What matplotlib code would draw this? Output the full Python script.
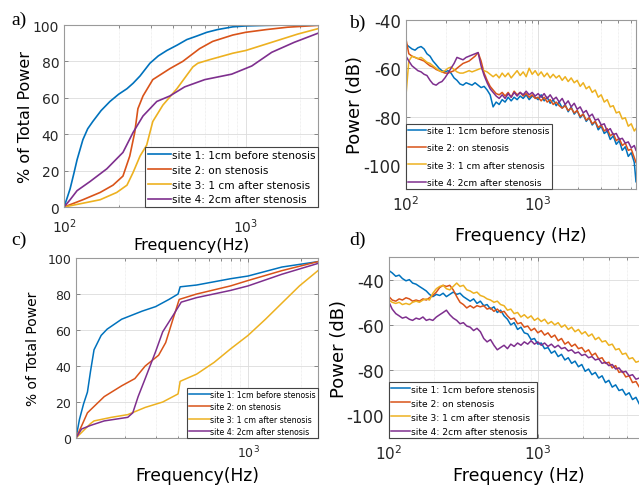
import matplotlib
matplotlib.use("Agg")
import matplotlib.pyplot as plt
from matplotlib.ticker import NullFormatter

plt.rcParams['font.family'] = ['DejaVu Sans']
plt.rcParams['axes.unicode_minus'] = False
plt.rcParams['mathtext.fontset'] = 'dejavusans'

colors = ['#0072BD', '#D95319', '#EDB120', '#7E2F8E']
labels = ['site 1: 1cm before stenosis', 'site 2: on stenosis',
          'site 3: 1 cm after stenosis', 'site 4: 2cm after stenosis']

# ---- panel a: cumulative power (%) ----
a_site1_f = [100, 104, 108, 113, 118, 127, 135, 144, 160, 179, 200, 222, 240, 262, 297, 330, 368, 420, 474, 540, 611, 700, 849, 1000, 1300, 1700, 2500]
a_site1_y = [0, 5, 10, 18, 26, 37, 43, 47, 53, 58, 62, 65, 68, 72, 79, 83, 86, 89, 92, 94, 96, 97.5, 99, 99.5, 99.8, 100, 100]
a_site2_f = [100, 127, 158, 186, 211, 230, 245, 255, 272, 308, 382, 450, 557, 658, 849, 1000, 1300, 1700, 2500]
a_site2_y = [0, 4, 8, 12, 17, 28, 41, 54, 61, 70, 76, 80, 87, 91, 94.5, 96, 97.5, 98.8, 99.8]
a_site3_f = [100, 158, 195, 222, 240, 262, 285, 308, 350, 418, 512, 545, 635, 849, 1000, 1390, 1930, 2500]
a_site3_y = [0, 4, 8, 12, 19, 28, 34, 47, 56, 65, 77, 79, 81, 84.5, 86, 90.5, 95, 98]
a_site4_f = [100, 108, 118, 139, 172, 211, 240, 272, 324, 382, 461, 595, 837, 1080, 1390, 1850, 2500]
a_site4_y = [0, 4, 9, 14, 21, 30, 41, 50, 58, 61, 66, 70, 73, 77.5, 85, 90.5, 95.5]

# ---- panel c: cumulative power (%) ----
c_site1_f = [105, 110, 116, 122, 127, 133, 146, 158, 191, 250, 298, 355, 400, 411, 510, 795, 1000, 1560, 2500]
c_site1_y = [0, 10.5, 19, 25.5, 37, 49, 57, 60.5, 66, 70.5, 73, 77, 80, 84, 85, 88.5, 90, 95, 98]
c_site2_f = [105, 113, 122, 152, 191, 227, 260, 310, 340, 374, 406, 510, 795, 1000, 1560, 2500]
c_site2_y = [0, 6.7, 14, 23, 29, 33, 40, 46, 53, 66, 77, 80, 84.5, 87.5, 93, 98]
c_site3_f = [105, 127, 133, 167, 207, 260, 327, 400, 411, 510, 641, 795, 1000, 1257, 1560, 1961, 2500]
c_site3_y = [0, 8, 9.5, 11.5, 13, 17, 20, 24.5, 31.5, 35.5, 42, 49.5, 57, 66, 75, 84.5, 93]
c_site4_f = [105, 113, 127, 152, 207, 221, 237, 260, 298, 327, 374, 417, 510, 795, 1000, 1560, 2500]
c_site4_y = [0, 5, 7, 9.5, 11.5, 14, 23, 33, 48, 59, 68, 75.5, 78, 82, 84.5, 91, 97]

# ---- panels b, d: power spectra (dB) ----
psd_freq = [100, 105, 111, 117, 123, 130, 137, 144, 152, 160, 169, 178, 187, 197, 208, 219, 231, 243, 256, 270,
            285, 300, 316, 333, 351, 370, 390, 411, 433, 456, 481, 507, 534, 562, 593, 625, 658, 693, 731, 770,
            811, 855, 901, 949, 1000, 1054, 1110, 1170, 1233, 1299, 1369, 1442, 1520, 1601, 1687, 1778, 1874, 1974,
            2080, 2192, 2310, 2434, 2565, 2702, 2848, 3000, 3162, 3332, 3511, 3700, 3899, 4108, 4329, 4562, 4807,
            5065, 5337, 5500]

b_site1 = [-50, -51, -52, -52.5, -51.5, -51, -52, -54, -55, -57, -58.5, -60, -61, -61.5, -61, -62, -64, -65, -66.5, -67,
           -66, -66.5, -67, -66, -67, -68, -67.5, -69, -71, -76, -74, -75, -73, -74, -72, -73.5, -72, -73, -71.5, -72.5,
           -71, -73, -71.5, -72, -73, -71, -73.5, -72, -74.5, -73, -75.5, -74, -76.5, -75, -78, -76, -79, -77.5,
           -80.5, -79, -82, -80.5, -83.5, -82, -85.5, -84, -87, -86, -89.5, -88, -91.5, -90, -94, -92.5, -96.5,
           -95, -99, -107]
b_site2 = [-48, -54, -55, -55.5, -56, -56.5, -57, -58, -59, -59.5, -60.5, -61, -61.5, -62, -62, -61.5, -61, -60, -59, -58,
           -57.5, -57, -56, -55, -53.5, -57, -62, -65, -67.5, -69, -70.5, -71, -70, -71.5, -70, -72, -69.5, -71, -70, -71.5,
           -70.5, -72, -71, -72.5, -72, -73.5, -72, -74, -73, -75, -74, -75.5, -76.5, -75.5, -77.5, -76.5, -78.5, -77.5,
           -80, -79, -81.5, -80.5, -83, -82, -84.5, -83.5, -86, -85, -88, -87, -90, -89, -92, -91, -94,
           -93.5, -97, -99]
b_site3 = [-71, -57, -55, -55.5, -56, -55.5, -56.5, -57.5, -58, -59, -60, -61, -61.5, -61, -60, -59.5, -60.5, -61.5, -62, -62,
           -61.5, -61, -61.5, -61, -60.5, -60, -61, -61.5, -62.5, -63.5, -62.5, -64, -62, -63.5, -62, -64, -62.5, -61, -63, -61.5,
           -63.5, -60, -62.5, -61, -63, -61.5, -63.5, -62, -64, -62.5, -64, -63, -65, -63.5, -65.5, -64, -66, -65,
           -67.5, -66, -68.5, -67.5, -70, -69, -72, -71, -74, -73, -76, -75.5, -78.5, -78, -81, -80.5, -84,
           -83, -86, -85]
b_site4 = [-55, -57, -59, -60, -61, -61.5, -62.5, -63, -65, -66.5, -67, -66, -65.5, -64, -62, -60, -58, -55.5, -56, -56.5,
           -55.5, -55, -54.5, -54, -53.5, -59, -63, -66, -68.5, -70, -71.5, -72.5, -71, -72.5, -70.5, -72, -70, -71.5, -70, -71,
           -69.5, -71, -70, -71.5, -70.5, -72, -70.5, -72.5, -71, -73, -72, -74, -72.5, -75, -73.5, -76, -74.5, -77,
           -76, -78.5, -77.5, -80, -79, -81.5, -81, -83.5, -83, -86, -85, -87.5, -87, -89.5, -89, -91, -90.5,
           -93, -92, -94]

d_site1 = [-36, -37, -38.5, -38, -39.5, -40.5, -40, -41.5, -42, -43, -44, -45, -46.5, -47.5, -46.5, -47, -46, -47.5, -46.5, -45.5,
           -46.5, -46, -47.5, -48.5, -49.5, -48.5, -50.5, -49.5, -51.5, -51, -53, -52, -54.5, -53.5, -56, -57.5, -60, -59, -62, -61,
           -63.5, -64, -66.5, -66, -68.5, -68, -70.5, -70, -72.5, -71.5, -74, -73, -75.5, -74.5, -77, -76, -78.5, -77.5,
           -80.5, -79.5, -82, -81, -83.5, -82.5, -85.5, -84.5, -87.5, -86.5, -89, -88.5, -91, -90, -93, -92, -95,
           -94.5, -97, -96.5]
d_site2 = [-47.5, -49, -49.5, -48.5, -49, -48, -48.5, -49.5, -49, -49.5, -48.5, -49, -48, -47, -45.5, -43.5, -42.5, -43, -42.5, -44.5,
           -47.5, -50, -51, -52.5, -51.5, -52.5, -51.5, -52, -51.5, -53, -52.5, -54, -53, -54.5, -54, -56, -57.5, -57, -59.5, -59,
           -61, -60.5, -62.5, -61.5, -63.5, -62.5, -64.5, -63.5, -65.5, -64.5, -67, -66, -68.5, -67.5, -69.5, -68.5, -70.5, -70,
           -72, -71, -73.5, -72.5, -75, -74.5, -77, -76.5, -79, -78, -81, -80.5, -83, -82.5, -85.5, -85, -87.5,
           -87, -89.5, -89]
d_site3 = [-49, -50, -50.5, -50, -51, -50.5, -51, -50, -49.5, -50, -49, -48.5, -49, -46, -44, -43, -42.5, -44, -44.5, -43,
           -41.5, -43, -42.5, -44.5, -45, -46, -45.5, -47, -47.5, -48.5, -49, -50, -49.5, -51, -51.5, -53.5, -53, -55, -54.5, -56.5,
           -55.5, -57, -56, -58, -57, -58.5, -57.5, -59.5, -58.5, -60, -59, -61, -60, -62, -61, -63, -62, -64,
           -63, -65, -64, -66.5, -65.5, -67.5, -67, -69, -68.5, -71, -70.5, -73, -72.5, -75, -74.5, -76.5, -76,
           -78, -77.5, -79.5]
d_site4 = [-50, -53, -55, -56, -57, -56.5, -57.5, -58, -57, -57.5, -56.5, -58, -57.5, -58, -56.5, -55.5, -54.5, -53.5, -55.5, -57,
           -58, -59.5, -59, -60.5, -61, -62.5, -61.5, -63, -66, -67.5, -66.5, -69, -71, -70, -69, -70.5, -68.5, -69.5, -68, -69,
           -67.5, -68.5, -67, -68.5, -67.5, -69, -68, -69.5, -68.5, -70, -69, -70.5, -70, -71.5, -71, -72.5, -72, -73.5,
           -73, -74.5, -74, -75.5, -75, -77, -76.5, -78, -77.5, -79.5, -79, -81, -80.5, -82.5, -82, -84, -83.5,
           -85, -84.5, -86]


def style_axes(ax, tick_size_x, tick_size_y, xpad=4):
    ax.set_xscale('log')
    ax.grid(True, which='major', color='#dcdcdc', lw=0.6)
    ax.grid(True, which='minor', axis='x', color='#e4e4e4', lw=0.5, ls=(0, (1, 1)))
    ax.set_axisbelow(True)
    ax.xaxis.set_minor_formatter(NullFormatter())
    ax.tick_params(which='both', direction='in', color='#777777', width=0.6, top=True, right=True)
    ax.tick_params(which='major', length=3)
    ax.tick_params(which='minor', length=1.8)
    ax.tick_params(axis='x', labelsize=tick_size_x, colors='#262626', pad=xpad)
    ax.tick_params(axis='y', labelsize=tick_size_y, colors='#262626')
    ax.tick_params(which='both', color='#777777')
    for s in ax.spines.values():
        s.set_color('#9a9a9a')
        s.set_linewidth(0.8)


def add_legend(ax, loc, size, spacing, handle):
    leg = ax.legend(loc=loc, fontsize=size, labelspacing=spacing, handlelength=handle,
                    handletextpad=0.1, borderpad=0.25, borderaxespad=0, fancybox=False,
                    edgecolor='#444444', framealpha=1)
    leg.get_frame().set_linewidth(0.8)
    return leg


fig = plt.figure(figsize=(6.39, 4.89), dpi=100)

# a)
ax_a = fig.add_axes([0.1002, 0.5746, 0.3975, 0.3722])
for f, y, c, lab in zip([a_site1_f, a_site2_f, a_site3_f, a_site4_f],
                        [a_site1_y, a_site2_y, a_site3_y, a_site4_y], colors, labels):
    ax_a.plot(f, y, color=c, lw=1.2, label=lab)
style_axes(ax_a, 10, 10, xpad=7)
ax_a.set_xlim(100, 2500)
ax_a.set_ylim(0, 100)
ax_a.set_yticks([0, 20, 40, 60, 80, 100])
ax_a.set_ylabel('% of Total Power', fontsize=11.5, labelpad=0)
ax_a.set_xlabel('Frequency(Hz)', fontsize=11.5, labelpad=1)
add_legend(ax_a, 'lower right', 7.6, 0.45, 2.2)

# b)
ax_b = fig.add_axes([0.6354, 0.6115, 0.3599, 0.3456])
for y, c, lab in zip([b_site1, b_site2, b_site3, b_site4], colors, labels):
    ax_b.plot(psd_freq, y, color=c, lw=1.1, label=lab)
style_axes(ax_b, 11, 12)
ax_b.set_xlim(100, 5500)
ax_b.set_ylim(-110, -40)
ax_b.set_yticks([-100, -80, -60, -40])
ax_b.set_ylabel('Power (dB)', fontsize=13, labelpad=0)
ax_b.set_xlabel('Frequency (Hz)', fontsize=12.5, labelpad=9)
add_legend(ax_b, 'lower left', 6.5, 0.9, 2.0)

# c)
ax_c = fig.add_axes([0.1189, 0.1022, 0.3787, 0.3681])
for f, y, c, lab in zip([c_site1_f, c_site2_f, c_site3_f, c_site4_f],
                        [c_site1_y, c_site2_y, c_site3_y, c_site4_y], colors, labels):
    ax_c.plot(f, y, color=c, lw=1.1, label=lab)
style_axes(ax_c, 9, 9)
ax_c.set_xlim(105, 2500)
ax_c.set_ylim(0, 100)
ax_c.set_yticks([0, 20, 40, 60, 80, 100])
ax_c.set_ylabel('% of Total Power', fontsize=10, labelpad=5)
ax_c.set_xlabel('Frequency(Hz)', fontsize=12.3, labelpad=4)
add_legend(ax_c, 'lower right', 5.6, 0.45, 2.6)

# d)
ax_d = fig.add_axes([0.6088, 0.1022, 0.4053, 0.3701])
for y, c, lab in zip([d_site1, d_site2, d_site3, d_site4], colors, labels):
    ax_d.plot(psd_freq, y, color=c, lw=1.1, label=lab)
style_axes(ax_d, 11, 12)
ax_d.set_xlim(100, 5500)
ax_d.set_ylim(-110, -30)
ax_d.set_yticks([-100, -80, -60, -40])
ax_d.set_ylabel('Power (dB)', fontsize=13, labelpad=-1)
ax_d.set_xlabel('Frequency (Hz)', fontsize=12.5, labelpad=3)
add_legend(ax_d, 'lower left', 6.6, 0.55, 2.0)

# panel letters
for x, y, t in [(0.030, 0.959, 'a)'), (0.559, 0.953, 'b)'), (0.030, 0.509, 'c)'), (0.560, 0.509, 'd)')]:
    fig.text(x, y, t, fontsize=14, family='Liberation Serif', ha='center', va='center')

fig.savefig('out.png', dpi=100)
